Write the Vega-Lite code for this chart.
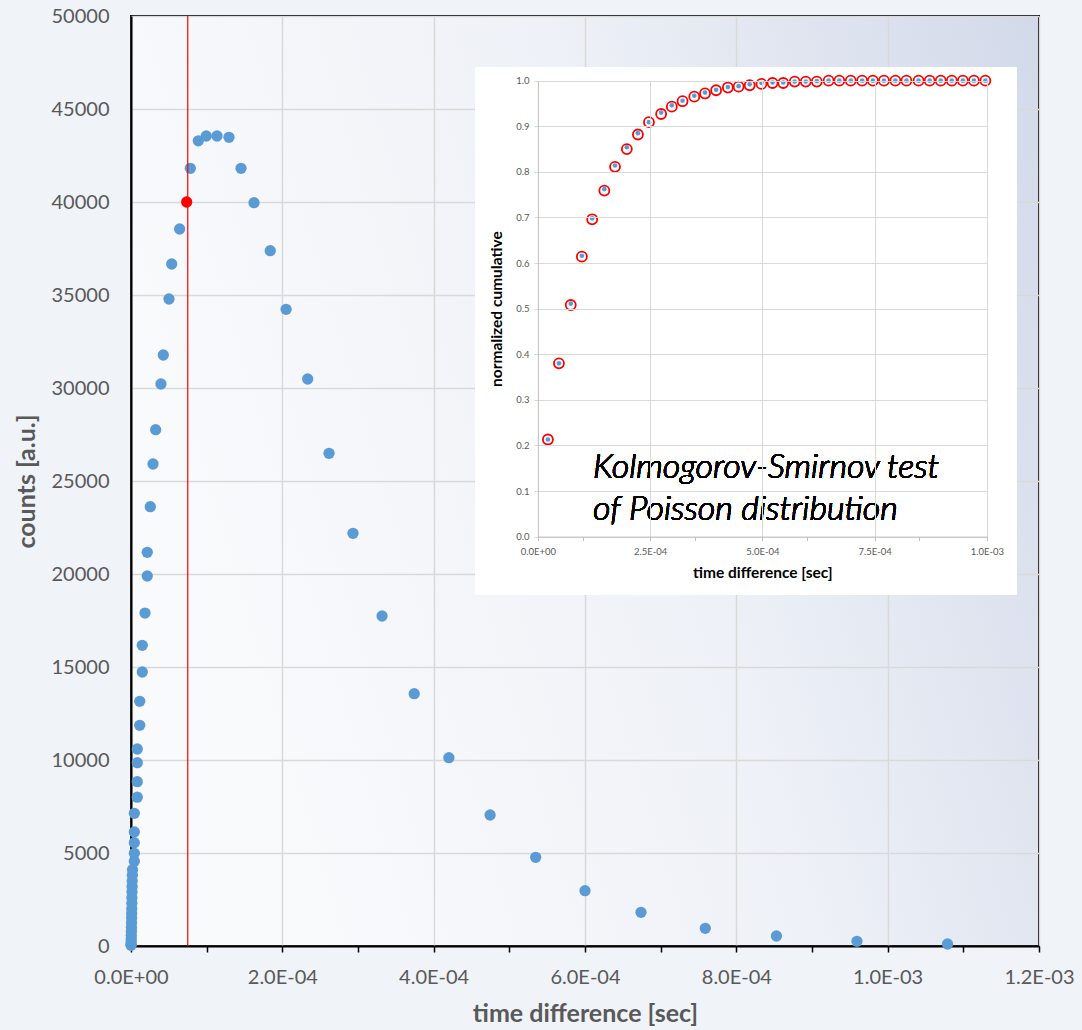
{
  "$schema": "https://vega.github.io/schema/vega-lite/v6.json",
  "width": 908,
  "height": 930,
  "autosize": {"type": "none"},
  "padding": {"left": 131, "top": 16, "right": 43, "bottom": 84},
  "background": "#f0f3f8",
  "config": {
    "font": "Lato",
    "view": {
      "stroke": "#000000",
      "strokeWidth": 2,
      "fill": {"gradient": "linear", "x1": 0, "y1": 0.3, "x2": 1, "y2": 0, "stops": [{"offset": 0, "color": "#f9fafc"}, {"offset": 0.5, "color": "#eef1f7"}, {"offset": 1, "color": "#d2d9e9"}]}
    }
  },
  "datasets": {
    "main": [
      {"t": 0.00000005, "counts": 40}, {"t": 0.0000001, "counts": 100}, {"t": 0.0000002, "counts": 220}, {"t": 0.0000003, "counts": 380},
      {"t": 0.0000004, "counts": 560}, {"t": 0.0000005, "counts": 780}, {"t": 0.0000006, "counts": 1000}, {"t": 0.0000007, "counts": 1250},
      {"t": 0.0000008, "counts": 1500}, {"t": 0.0000009, "counts": 1750}, {"t": 0.000001, "counts": 2000}, {"t": 0.0000011, "counts": 2300},
      {"t": 0.0000012, "counts": 2600}, {"t": 0.0000013, "counts": 2900}, {"t": 0.0000015, "counts": 3200}, {"t": 0.0000016, "counts": 3500},
      {"t": 0.0000018, "counts": 3800}, {"t": 0.000002, "counts": 4100}, {"t": 0.0000044, "counts": 4554}, {"t": 0.0000044, "counts": 4984},
      {"t": 0.0000044, "counts": 5554}, {"t": 0.0000044, "counts": 6129}, {"t": 0.0000044, "counts": 7134}, {"t": 0.0000083, "counts": 8000},
      {"t": 0.0000083, "counts": 8833}, {"t": 0.0000083, "counts": 9855}, {"t": 0.0000083, "counts": 10591}, {"t": 0.0000115, "counts": 11866},
      {"t": 0.0000115, "counts": 13156}, {"t": 0.0000149, "counts": 14731}, {"t": 0.0000149, "counts": 16167}, {"t": 0.0000185, "counts": 17900},
      {"t": 0.0000215, "counts": 19892}, {"t": 0.0000215, "counts": 21167}, {"t": 0.0000255, "counts": 23620}, {"t": 0.0000291, "counts": 25914},
      {"t": 0.0000326, "counts": 27758}, {"t": 0.0000396, "counts": 30215}, {"t": 0.0000427, "counts": 31774}, {"t": 0.0000502, "counts": 34785},
      {"t": 0.0000538, "counts": 36667}, {"t": 0.0000643, "counts": 38548}, {"t": 0.0000784, "counts": 41812}, {"t": 0.000089, "counts": 43290},
      {"t": 0.0000995, "counts": 43548}, {"t": 0.0001137, "counts": 43548}, {"t": 0.0001295, "counts": 43478}, {"t": 0.0001454, "counts": 41812},
      {"t": 0.0001626, "counts": 39962}, {"t": 0.000184, "counts": 37382}, {"t": 0.000205, "counts": 34230}, {"t": 0.0002335, "counts": 30484},
      {"t": 0.0002617, "counts": 26489}, {"t": 0.0002934, "counts": 22188}, {"t": 0.0003318, "counts": 17742}, {"t": 0.0003743, "counts": 13565},
      {"t": 0.0004201, "counts": 10124}, {"t": 0.0004746, "counts": 7043}, {"t": 0.0005348, "counts": 4769}, {"t": 0.0006, "counts": 2973},
      {"t": 0.000674, "counts": 1812}, {"t": 0.000759, "counts": 952}, {"t": 0.000853, "counts": 538}, {"t": 0.0009594, "counts": 253},
      {"t": 0.0010791, "counts": 108}
    ],
    "marker": [{"t": 0.000075}],
    "peak": [{"t": 0.0000736, "counts": 40000}],
    "ks": [
      {"t": 0.0000223, "empirical": 0.213, "poisson": 0.213}, {"t": 0.0000469, "empirical": 0.380, "poisson": 0.380},
      {"t": 0.0000732, "empirical": 0.511, "poisson": 0.508}, {"t": 0.0000979, "empirical": 0.616, "poisson": 0.614},
      {"t": 0.0001209, "empirical": 0.698, "poisson": 0.696}, {"t": 0.000148, "empirical": 0.762, "poisson": 0.759},
      {"t": 0.0001718, "empirical": 0.814, "poisson": 0.811}, {"t": 0.0001981, "empirical": 0.854, "poisson": 0.850},
      {"t": 0.0002228, "empirical": 0.885, "poisson": 0.882}, {"t": 0.0002474, "empirical": 0.909, "poisson": 0.909},
      {"t": 0.0002745, "empirical": 0.930, "poisson": 0.927}, {"t": 0.0002983, "empirical": 0.946, "poisson": 0.943},
      {"t": 0.0003222, "empirical": 0.956, "poisson": 0.955}, {"t": 0.0003484, "empirical": 0.967, "poisson": 0.965},
      {"t": 0.0003723, "empirical": 0.974, "poisson": 0.972}, {"t": 0.000397, "empirical": 0.980, "poisson": 0.979},
      {"t": 0.0004232, "empirical": 0.986, "poisson": 0.985}, {"t": 0.0004471, "empirical": 0.988, "poisson": 0.987},
      {"t": 0.0004718, "empirical": 0.992, "poisson": 0.990}, {"t": 0.000498, "empirical": 0.995, "poisson": 0.993},
      {"t": 0.0005227, "empirical": 0.996, "poisson": 0.995}, {"t": 0.0005465, "empirical": 0.996, "poisson": 0.995},
      {"t": 0.000572, "empirical": 0.998, "poisson": 0.998}, {"t": 0.0005967, "empirical": 0.998, "poisson": 0.998},
      {"t": 0.0006213, "empirical": 0.999, "poisson": 0.998}, {"t": 0.0006476, "empirical": 1.0, "poisson": 1.0},
      {"t": 0.0006714, "empirical": 1.0, "poisson": 1.0}, {"t": 0.0006969, "empirical": 1.0, "poisson": 1.0},
      {"t": 0.0007223, "empirical": 1.0, "poisson": 1.0}, {"t": 0.0007462, "empirical": 1.0, "poisson": 1.0},
      {"t": 0.0007709, "empirical": 1.0, "poisson": 1.0}, {"t": 0.0007963, "empirical": 1.0, "poisson": 1.0},
      {"t": 0.000821, "empirical": 1.0, "poisson": 1.0}, {"t": 0.000848, "empirical": 1.0, "poisson": 1.0},
      {"t": 0.0008727, "empirical": 1.0, "poisson": 1.0}, {"t": 0.0008974, "empirical": 1.0, "poisson": 1.0},
      {"t": 0.000922, "empirical": 1.0, "poisson": 1.0}, {"t": 0.0009467, "empirical": 1.0, "poisson": 1.0},
      {"t": 0.0009714, "empirical": 1.0, "poisson": 1.0}, {"t": 0.0009968, "empirical": 1.0, "poisson": 1.0}
    ]
  },
  "layer": [
    {
      "layer": [
        {
          "data": {"name": "main"},
          "mark": {"type": "circle", "size": 127, "color": "#5b9bd5", "opacity": 1},
          "encoding": {
            "x": {
              "field": "t", "type": "quantitative",
              "scale": {"domain": [0, 0.0012], "nice": false, "zero": false},
              "axis": {
                "orient": "bottom",
                "title": "time difference [sec]",
                "values": [0, 0.0001, 0.0002, 0.0003, 0.0004, 0.0005, 0.0006, 0.0007, 0.0008, 0.0009, 0.001, 0.0011, 0.0012],
                "labelExpr": "round(datum.value*1e4) % 2 == 0 ? replace(replace(format(datum.value, '.1e'), 'e-', 'E-0'), 'e+', 'E+0') : ''",
                "labelFont": "Lato", "labelFontSize": 20, "labelColor": "#595959", "labelPadding": 15,
                "labelFlush": false, "labelOverlap": false,
                "tickColor": "#000000", "tickSize": 6, "tickWidth": 1.5,
                "domainColor": "#000000", "domainWidth": 2,
                "grid": true, "gridColor": "#d9d9d9", "gridWidth": 1.5,
                "gridOpacity": {"condition": {"test": "round(datum.value*1e4) % 2 == 0", "value": 1}, "value": 0},
                "titleFont": "Lato", "titleFontSize": 25, "titleFontWeight": "bold", "titleColor": "#595959", "titlePadding": 14
              }
            },
            "y": {
              "field": "counts", "type": "quantitative",
              "scale": {"domain": [0, 50000], "nice": false},
              "axis": {
                "orient": "left",
                "title": "counts [a.u.]",
                "values": [0, 5000, 10000, 15000, 20000, 25000, 30000, 35000, 40000, 45000, 50000],
                "format": "d",
                "labelFont": "Lato", "labelFontSize": 20, "labelColor": "#595959", "labelPadding": 22,
                "labelFlush": false, "labelOverlap": false,
                "ticks": false,
                "domainColor": "#000000", "domainWidth": 2,
                "grid": true, "gridColor": "#d9d9d9", "gridWidth": 1.5,
                "titleFont": "Lato", "titleFontSize": 25, "titleFontWeight": "bold", "titleColor": "#595959", "titlePadding": 12
              }
            }
          }
        },
        {
          "data": {"name": "marker"},
          "mark": {"type": "rule", "color": "#ff0000", "strokeWidth": 1.2},
          "encoding": {"x": {"field": "t", "type": "quantitative"}}
        },
        {
          "data": {"name": "peak"},
          "mark": {"type": "circle", "size": 127, "color": "#ff0000", "opacity": 1},
          "encoding": {
            "x": {"field": "t", "type": "quantitative"},
            "y": {"field": "counts", "type": "quantitative"}
          }
        }
      ]
    },
    {
      "data": {"name": "ks"},
      "layer": [
        {
          "mark": {"type": "rect", "fill": "#ffffff", "stroke": null},
          "encoding": {
            "x": {"datum": -0.0001392, "type": "quantitative",
              "scale": {"domain": [0, 0.001], "range": [406.9, 855.8], "nice": false, "zero": false},
              "axis": {
                "orient": "top", "zindex": 1,
                "title": null, "labels": false, "ticks": false, "domain": false,
                "values": [0.00025, 0.0005, 0.00075, 0.001],
                "grid": true, "gridColor": "#d9d9d9", "gridWidth": 1
              }
            },
            "x2": {"datum": 0.001066},
            "y": {"datum": -0.1268, "type": "quantitative",
              "scale": {"domain": [0, 1], "range": [520.6, 64.7], "nice": false, "zero": false},
              "axis": {
                "orient": "left", "offset": -406.9, "zindex": 1,
                "title": "normalized cumulative",
                "values": [0, 0.1, 0.2, 0.3, 0.4, 0.5, 0.6, 0.7, 0.8, 0.9, 1.0],
                "format": ".1f",
                "labelFont": "Lato", "labelFontSize": 9.5, "labelColor": "#595959", "labelPadding": 5,
                "labelFlush": false, "labelOverlap": false,
                "tickColor": "#d9d9d9", "tickSize": 4, "tickWidth": 1,
                "domainColor": "#bfbfbf", "domainWidth": 1,
                "grid": true, "gridColor": "#d9d9d9", "gridWidth": 1,
                "titleFont": "Lato", "titleFontSize": 15.5, "titleFontWeight": "bold", "titleColor": "#000000", "titlePadding": 11
              }
            },
            "y2": {"datum": 1.0287}
          }
        },
        {
          "mark": {"type": "point", "shape": "circle", "size": 100, "filled": false, "stroke": "#ff0000", "strokeWidth": 1.8, "opacity": 1},
          "encoding": {
            "x": {"field": "t", "type": "quantitative",
              "axis": {
                "orient": "bottom", "offset": -409.4, "zindex": 1,
                "title": "time difference [sec]",
                "values": [0, 0.0001, 0.00025, 0.00035, 0.0005, 0.0006, 0.00075, 0.00085, 0.001],
                "labelExpr": "round(datum.value*1e5) % 25 == 0 ? replace(replace(format(datum.value, '.1e'), 'e-', 'E-0'), 'e+', 'E+0') : ''",
                "labelFont": "Lato", "labelFontSize": 9.5, "labelColor": "#595959", "labelPadding": 6,
                "labelFlush": false, "labelOverlap": false,
                "tickColor": "#bfbfbf", "tickSize": 4, "tickWidth": 1,
                "domainColor": "#bfbfbf", "domainWidth": 1,
                "grid": false,
                "titleFont": "Lato", "titleFontSize": 15.5, "titleFontWeight": "bold", "titleColor": "#000000", "titlePadding": 9
              }
            },
            "y": {"field": "poisson", "type": "quantitative"}
          }
        },
        {
          "mark": {"type": "circle", "size": 22, "color": "#5b9bd5", "opacity": 1},
          "encoding": {
            "x": {"field": "t", "type": "quantitative", "axis": null},
            "y": {"field": "empirical", "type": "quantitative"}
          }
        },
        {
          "mark": {"type": "text", "font": "Lato", "fontSize": 34, "fontStyle": "italic", "fontWeight": 300, "color": "#000000", "align": "left", "baseline": "alphabetic", "lineHeight": 42},
          "encoding": {
            "x": {"datum": 0.0001228, "axis": null},
            "y": {"datum": 0.1285},
            "text": {"value": ["Kolmogorov-Smirnov test", "of Poisson distribution"]}
          }
        }
      ],
      "resolve": {"axis": {"x": "independent"}}
    }
  ],
  "resolve": {"scale": {"x": "independent", "y": "independent"}, "axis": {"x": "independent", "y": "independent"}}
}
